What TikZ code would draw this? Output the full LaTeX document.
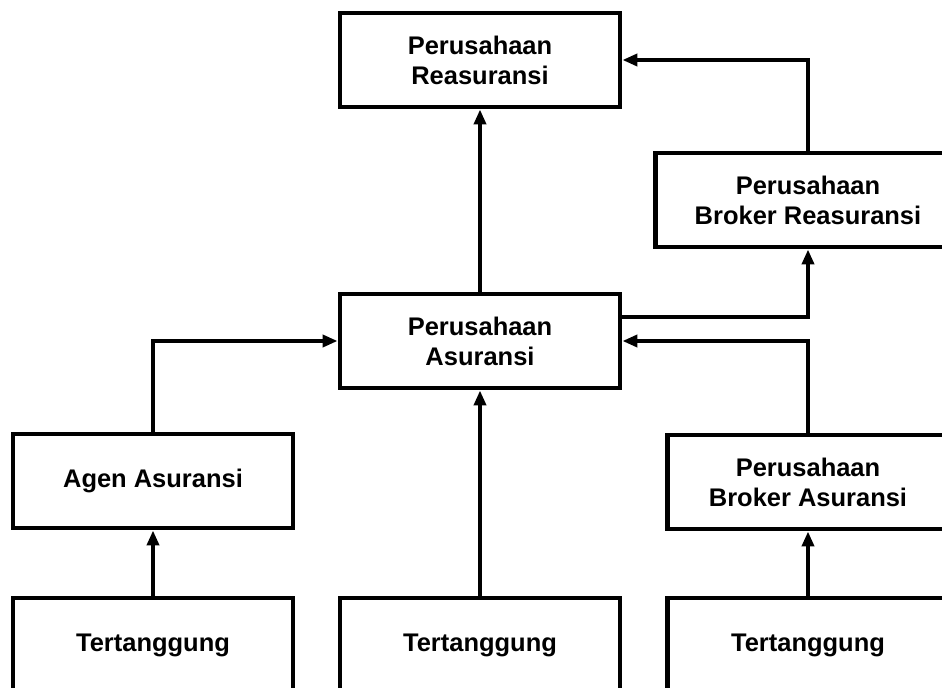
\documentclass[tikz,border=0pt]{standalone}
\usepackage{fontspec}
\setmainfont{Liberation Sans}
\usetikzlibrary{arrows.meta,positioning,calc}

\begin{document}
\begin{tikzpicture}[x=0.02cm,y=-0.02cm,>={Triangle[length=0.3cm,width=0.24cm]},
  box/.style={draw,line width=2.8pt,align=center,minimum width=5.6cm,minimum height=1.88cm,
    font=\fontsize{14.5}{17}\selectfont\bfseries},
  link/.style={->,line width=2.3pt}]
\useasboundingbox (0,0) rectangle (942,688);
\node[box] (rea) at (480,60) {Perusahaan\\Reasuransi};
\node[box,minimum width=6.12cm] (brea) at (808,200) {Perusahaan\\Broker Reasuransi};
\node[box] (asu) at (480,341) {Perusahaan\\Asuransi};
\node[box] (agen) at (153,481) {Agen Asuransi};
\node[box,minimum width=5.64cm] (basu) at (808,482) {Perusahaan\\Broker Asuransi};
\node[box] (t1) at (153,645) {Tertanggung};
\node[box] (t2) at (480,645) {Tertanggung};
\node[box,minimum width=5.64cm] (t3) at (808,645) {Tertanggung};
% arus ke atas
\draw[link] (asu) -- (rea);
\draw[link] (brea.north) |- (rea.east);
\draw[link] ([yshift=0.48cm]asu.east) -| (brea.south);
\draw[link] (basu.north) |- (asu.east);
\draw[link] (agen.north) |- (asu.west);
\draw[link] (t1) -- (agen);
\draw[link] (t2) -- (asu);
\draw[link] (t3) -- (basu);
\end{tikzpicture}
\end{document}
